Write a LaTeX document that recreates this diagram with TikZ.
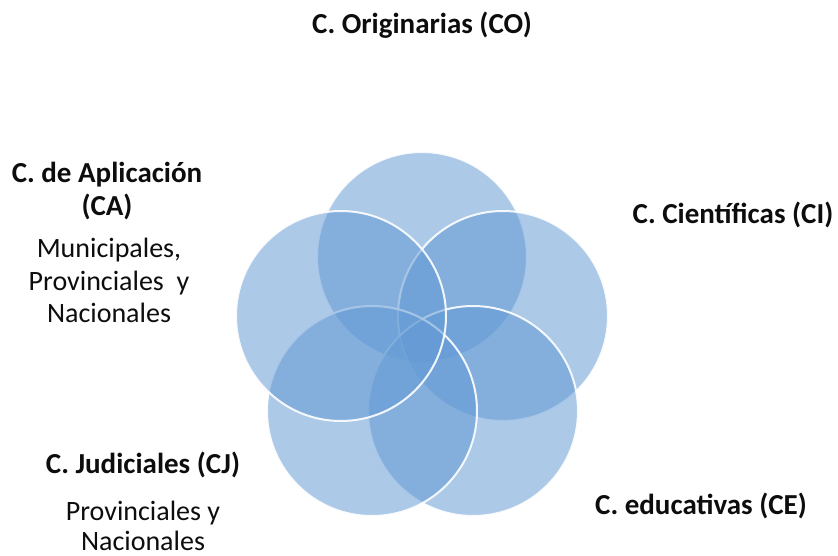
\documentclass[tikz,border=0pt]{standalone}
\usepackage{fontspec}
\setmainfont{Carlito}
\definecolor{petal}{RGB}{98,153,212}
\definecolor{ink}{RGB}{13,13,13}
\begin{document}
\begin{tikzpicture}[x=1pt,y=-1pt,
  petalfill/.style={fill=petal,fill opacity=0.53},
  petalline/.style={draw=white,line width=2pt,draw opacity=0.9},
  titletext/.style={text=ink,font=\fontsize{29}{35}\selectfont\bfseries,inner sep=0pt,anchor=base},
  bodytext/.style={text=ink,font=\fontsize{28}{32}\selectfont,inner sep=0pt,anchor=base}]
\useasboundingbox (0,0) rectangle (838,556);
% circles in drawing order
\foreach \cx/\cy in {422/257, 503/316, 473/411, 372/411, 341/316}{
  \path[petalfill] (\cx,\cy) circle[radius=105];
  \path[petalline] (\cx,\cy) circle[radius=105];
}
\node[titletext] (co) at (422,34) {C. Originarias (CO)};
\node[titletext] (ca1) at (107,183) {C. de Aplicación};
\node[titletext] (ca2) at (107,216) {(CA)};
\node[bodytext] (cab1) at (109,258) {Municipales,};
\node[bodytext] (cab2) at (109,290) {Provinciales~~y};
\node[bodytext] (cab3) at (109,322) {Nacionales};
\node[titletext] (ci) at (733,224) {C. Científicas (CI)};
\node[titletext] (ce) at (701,514) {C. educativas (CE)};
\node[titletext] (cj) at (143,473) {C. Judiciales (CJ)};
\node[bodytext] (cjb1) at (143,520) {Provinciales y};
\node[bodytext] (cjb2) at (143,550) {Nacionales};
\end{tikzpicture}
\end{document}
